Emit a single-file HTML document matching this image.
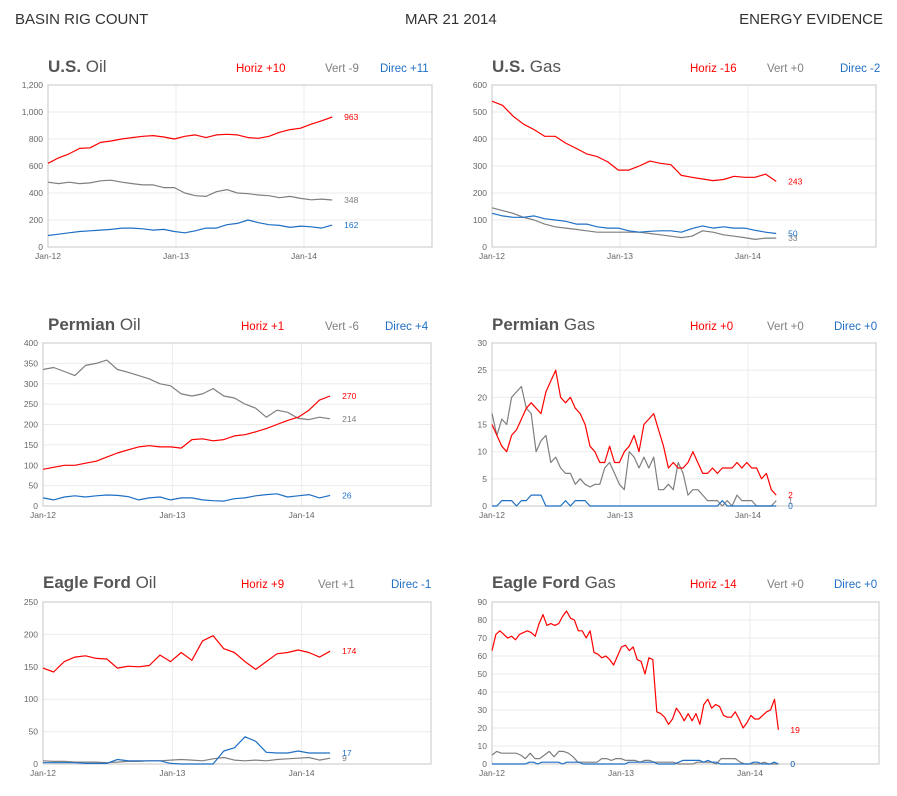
<!DOCTYPE html>
<html><head><meta charset="utf-8">
<style>
body{margin:0;background:#fff;font-family:"Liberation Sans",sans-serif;}
#wrap{position:relative;width:897px;height:796px;overflow:hidden;}
.hdr{position:absolute;top:11px;font-size:15px;color:#333;}
</style></head>
<body>
<div id="wrap">
<div class="hdr" style="left:15px">BASIN RIG COUNT</div>
<div class="hdr" style="left:405px">MAR 21 2014</div>
<div class="hdr" style="right:14px">ENERGY EVIDENCE</div>
<svg id="svg" width="897" height="796" style="position:absolute;left:0;top:0"></svg>
</div>
<script>
const xTickLabels=["Jan-12","Jan-13","Jan-14"];
// U.S. Oil
const usOilH=[620,660,690,730,735,775,785,800,810,820,825,815,800,820,830,810,830,835,830,810,805,820,850,870,880,910,935,963];
const usOilV=[480,470,480,470,475,490,495,480,470,460,460,440,440,400,380,375,410,425,400,395,385,380,365,375,360,350,355,348];
const usOilD=[85,95,105,115,120,125,130,140,140,135,125,130,115,105,120,140,140,165,175,200,180,165,160,145,155,150,140,162];
// U.S. Gas
const usGasH=[540,525,485,455,435,410,410,385,365,345,335,315,285,285,300,318,310,305,265,258,252,246,250,262,258,258,270,243];
const usGasV=[145,135,125,110,100,85,75,70,65,60,55,55,55,55,55,50,45,40,35,40,60,55,45,40,35,28,33,33];
const usGasD=[125,115,110,110,115,105,100,95,85,85,75,70,70,60,55,58,60,60,55,68,78,70,75,70,70,62,55,50];
// Permian Oil
const pOilH=[90,95,100,100,105,110,120,130,138,145,148,145,145,142,163,165,160,163,172,175,182,190,200,210,218,235,260,270];
const pOilV=[335,340,330,320,345,350,358,335,328,320,312,300,295,275,270,275,288,270,265,250,240,218,235,230,215,212,218,214];
const pOilD=[20,15,22,25,22,25,27,26,23,15,20,22,15,20,20,15,13,12,18,20,25,28,30,22,25,28,20,26];
// Permian Gas
const pGasH=[15,13,11,10,13,14,16,18,19,18,17,21,23,25,20,19,20,18,17,15,11,10,8,8,11,8,8,10,11,13,10,15,16,17,14,11,7,8,7,7,8,10,8,6,6,7,6,7,7,7,8,7,8,7,7,5,6,3,2];
const pGasV=[17,13,16,15,20,21,22,18,17,10,12,13,8,9,7,6,6,4,5,4,3.5,4,4,7,8,6,4,3,10,9,7,9,7,9,3,3,4,3,8,6,2,3,3,2,1,1,1,0,1,0,2,1,1,1,0,0,0,0,1];
const pGasD=[0,0,1,1,1,0,1,1,2,2,2,0,0,0,0,1,0,1,1,1,0,0,0,0,0,0,0,0,0,0,0,0,0,0,0,0,0,0,0,0,0,0,0,0,0,0,0,1,0,0,0,0,0,0,0,0,0,0,0];
// Eagle Ford Oil
const efOilH=[148,142,158,165,167,163,162,148,151,150,152,168,158,172,160,190,198,178,172,158,146,158,170,172,176,172,165,174];
const efOilV=[5,4,4,3,3,3,2,3,4,4,5,5,6,7,6,5,8,10,6,5,6,5,7,8,9,10,6,9];
const efOilD=[2,2,2,2,1,1,1,7,5,5,5,5,1,0,0,0,0,20,25,42,35,18,17,17,20,17,17,17];
// Eagle Ford Gas
const efGasH=[63,72,74,72,70,71,69,72,73,74,73,71,78,83,77,78,77,78,82,85,81,80,74,74,70,74,62,61,59,60,58,55,60,65,66,63,65,58,57,50,59,58,29,28,26,22,25,31,28,24,28,24,28,22,33,36,31,33,32,27,26,26,29,25,20,23,27,25,25,27,29,30,36,19];
const efGasV=[5,7,6,6,6,6,5,3,6,3,3,5,7,4,7,7,6,4,1,1,1,1,1,3,3,2,3,3,2,2,2,1,2,2,1,1,1,1,1,0,0,0,0,1,1,1,1,0,3,3,3,3,1,0,0,0,0,1,0,0,0];
const efGasD=[0,0,0,0,0,0,0,0,0,1,1,0,1,1,1,1,1,0,1,1,1,1,0,0,0,0,0,0,0,0,0,0,0,1,1,1,1,1,1,1,0,0,0,0,0,1,2,2,2,2,2,1,2,1,1,0,0,0,0,0,0,0,0,1,1,0,0,0,1,0];

const RED="#ff0000",GRAY="#7f7f7f",BLUE="#1f6fc5";
const NS="http://www.w3.org/2000/svg";
const svg=document.getElementById('svg');
function el(tag,attrs,parent){const e=document.createElementNS(NS,tag);for(const k in attrs)e.setAttribute(k,attrs[k]);(parent||svg).appendChild(e);return e;}

const panels=[
 {key:'us-oil',b:'U.S.',t:'Oil',x0:48,x1:432,y0:85,y1:247,max:1200,step:200,comma:true,tx:48,ty:72,H:usOilH,V:usOilV,D:usOilD,leg:['+10','-9','+11'],lx:[236,325,380]},
 {key:'us-gas',b:'U.S.',t:'Gas',x0:492,x1:876,y0:85,y1:247,max:600,step:100,tx:492,ty:72,H:usGasH,V:usGasV,D:usGasD,leg:['-16','+0','-2'],lx:[690,767,840]},
 {key:'permian-oil',b:'Permian',t:'Oil',x0:43,x1:431,y0:343,y1:506,max:400,step:50,tx:48,ty:330,H:pOilH,V:pOilV,D:pOilD,leg:['+1','-6','+4'],lx:[241,325,385]},
 {key:'permian-gas',b:'Permian',t:'Gas',x0:492,x1:876,y0:343,y1:506,max:30,step:5,tx:492,ty:330,H:pGasH,V:pGasV,D:pGasD,leg:['+0','+0','+0'],lx:[690,767,834]},
 {key:'eagle-ford-oil',b:'Eagle Ford',t:'Oil',x0:43,x1:431,y0:602,y1:764,max:250,step:50,tx:43,ty:588,H:efOilH,V:efOilV,D:efOilD,leg:['+9','+1','-1'],lx:[241,318,391]},
 {key:'eagle-ford-gas',b:'Eagle Ford',t:'Gas',x0:492,x1:879,y0:602,y1:764,max:90,step:10,tx:492,ty:588,H:efGasH,V:efGasV,D:efGasD,leg:['-14','+0','+0'],lx:[690,767,834]}
];

panels.forEach(p=>{
 const g=el('g',{});
 
 
 const yr=(p.x1-p.x0)/3;
 const xs=t=>p.x0+t*yr;
 const ys=v=>p.y1-v/p.max*(p.y1-p.y0);
 // title
 const tt=el('text',{x:p.tx,y:p.ty,'font-size':17,fill:'#555'},g);
 
 
 const b=el('tspan',{'font-weight':'bold'},tt);b.textContent=p.b+' ';
 const n=el('tspan',{},tt);n.textContent=p.t;
 // legend
 const names=['Horiz','Vert','Direc'],cols=[RED,GRAY,BLUE];
 names.forEach((nm,i)=>{
  const lt=el('text',{x:p.lx[i],y:p.ty,'font-size':11.5,fill:cols[i]},g);
  
  
  lt.textContent=nm+'  '+p.leg[i];
  lt.setAttribute('xml:space','preserve');
 });
 // grid
 for(let v=0;v<=p.max;v+=p.step){
  const y=ys(v);
  const gl=el('line',{x1:p.x0,x2:p.x1,y1:y,y2:y,stroke:'#ebebeb','stroke-width':1},g);
  
  
  const lb=el('text',{x:p.x0-5,y:y+3,'font-size':8.5,fill:'#666','text-anchor':'end'},g);
  
  
  lb.textContent=p.comma?v.toLocaleString('en-US'):String(v);
 }
 xTickLabels.forEach((l,i)=>{
  const x=xs(i);
  if(i>0){const vl=el('line',{x1:x,x2:x,y1:p.y0,y2:p.y1,stroke:'#ebebeb'},g);
   
   }
  const lb=el('text',{x:x,y:p.y1+12,'font-size':8.5,fill:'#666','text-anchor':'middle'},g);
  
  
  lb.textContent=l;
 });
 const bx=el('rect',{x:p.x0,y:p.y0,width:p.x1-p.x0,height:p.y1-p.y0,fill:'none',stroke:'#d0d0d0','stroke-width':1.2},g);
 
 
 const END=2.22;
 [[p.V,GRAY,'vert'],[p.D,BLUE,'direc'],[p.H,RED,'horiz']].forEach(([arr,c,nm])=>{
  const pts=arr.map((v,i)=>xs(i/(arr.length-1)*END).toFixed(1)+','+ys(v).toFixed(1)).join(' ');
  const pl=el('polyline',{points:pts,fill:'none',stroke:c,'stroke-width':1.2,'stroke-linejoin':'round'},g);
  
  
  const last=arr[arr.length-1];
  const vl=el('text',{x:xs(END)+12,y:ys(last)+3,'font-size':8.5,fill:c},g);
  
  
  vl.textContent=String(last);
 });
});
</script>
</body></html>
